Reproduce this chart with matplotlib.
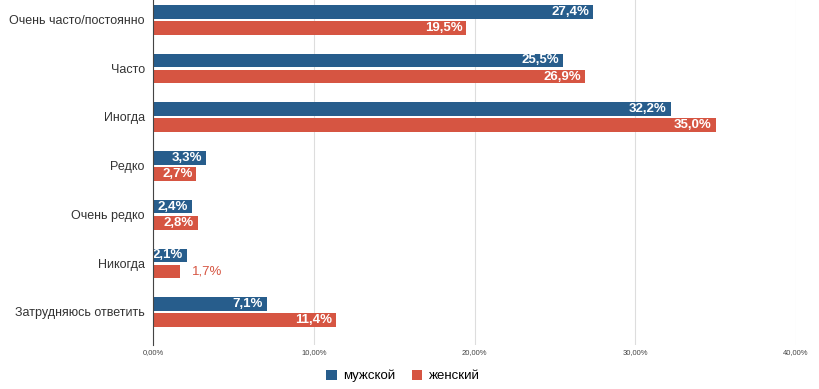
import matplotlib.pyplot as plt
import numpy as np

categories = [
    "Очень часто/постоянно",
    "Часто",
    "Иногда",
    "Редко",
    "Очень редко",
    "Никогда",
    "Затрудняюсь ответить",
]
male = [27.4, 25.5, 32.2, 3.3, 2.4, 2.1, 7.1]
female = [19.5, 26.9, 35.0, 2.7, 2.8, 1.7, 11.4]
ticks = [0, 10, 20, 30, 40]

BLUE = "#275d8c"
RED = "#d65542"

plt.rcParams["font.family"] = ["Liberation Sans", "DejaVu Sans"]

fig = plt.figure(figsize=(8.2, 3.89), dpi=100)
ax = fig.add_axes([153 / 820, 1 - 345 / 389, 643 / 820, 345 / 389])

y = np.arange(len(categories))
h = 0.28
ax.barh(y - h / 2 - 0.02, male, height=h, color=BLUE, label="мужской", zorder=3)
ax.barh(y + h / 2 + 0.03, female, height=h, color=RED, label="женский", zorder=3)


def fmt(v):
    return f"{v:.1f}%".replace(".", ",")


for i, (m, f) in enumerate(zip(male, female)):
    ax.text(m - 0.25, i - h / 2 - 0.02, fmt(m), color="white", fontsize=9.5,
            fontweight="bold", ha="right", va="center", zorder=4)
    if f >= 2.5:
        ax.text(f - 0.25, i + h / 2 + 0.03, fmt(f), color="white", fontsize=9.5,
                fontweight="bold", ha="right", va="center", zorder=4)
    else:
        ax.text(f + 0.75, i + h / 2 + 0.03, fmt(f), color=RED, fontsize=9.5,
                ha="left", va="center", zorder=4)

ax.set_xlim(0, 40)
ax.set_ylim(6.68, -0.4)
ax.set_yticks(y)
ax.set_yticklabels(categories, fontsize=9, color="#333333")
ax.set_xticks(ticks)
ax.set_xticklabels([f"{t:.2f}%".replace(".", ",") for t in ticks], fontsize=5.5, color="#444444")
ax.tick_params(axis="y", length=0, pad=6)
ax.tick_params(axis="x", length=0, pad=3)
ax.grid(axis="x", color="#dddddd", linewidth=0.8, zorder=0)
for s in ["top", "right", "bottom"]:
    ax.spines[s].set_visible(False)
ax.spines["left"].set_color("#444444")
ax.spines["left"].set_zorder(5)

fig.legend(loc="center", bbox_to_anchor=(403 / 820, 1 - 376 / 389), ncol=2,
           frameon=False, fontsize=9.5, handlelength=0.8, handleheight=0.8,
           handletextpad=0.5, columnspacing=1.2)

fig.savefig("out.png", dpi=100)
